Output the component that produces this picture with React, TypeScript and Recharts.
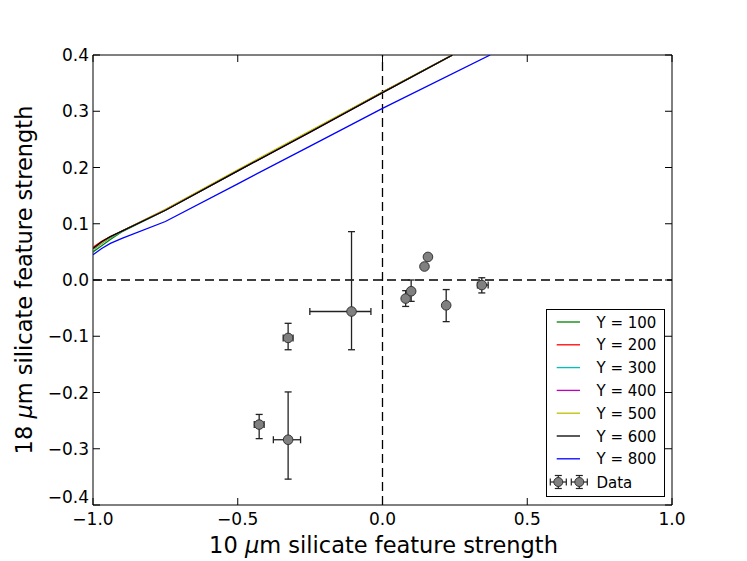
import React from 'react';
import { ScatterChart, Scatter, XAxis, YAxis, ErrorBar, ReferenceLine, Legend } from 'recharts';

// axis ticks
const xTicks = [-1, -0.5, 0, 0.5, 1];
const yTicks = [-0.4, -0.3, -0.2, -0.1, 0, 0.1, 0.2, 0.3, 0.4];

// model curves
const modelX = [-1, -0.97, -0.94, -0.9, -0.75, -0.5, -0.25, 0, 0.242];
const y100 = [0.05, 0.061, 0.072, 0.086, 0.124, 0.194, 0.264, 0.334, 0.4];
const y200 = [0.058, 0.069, 0.077, 0.087, 0.125, 0.195, 0.264, 0.334, 0.4];
const y300 = [0.054, 0.065, 0.075, 0.086, 0.124, 0.194, 0.264, 0.333, 0.4];
const y400 = [0.055, 0.066, 0.076, 0.087, 0.124, 0.194, 0.263, 0.333, 0.4];
const y500 = [0.055, 0.066, 0.076, 0.087, 0.125, 0.196, 0.265, 0.334, 0.4];
const y600 = [0.056, 0.068, 0.077, 0.087, 0.124, 0.194, 0.263, 0.333, 0.4];
const blueX = [-1, -0.97, -0.94, -0.9, -0.75, -0.5, -0.25, 0, 0.372];
const y800 = [0.045, 0.056, 0.065, 0.074, 0.104, 0.171, 0.238, 0.305, 0.4];

// observed points, errors as [below, above]
const obsX = [-0.107, -0.326, -0.426, -0.326, 0.08, 0.099, 0.145, 0.157, 0.22, 0.343];
const obsY = [-0.056, -0.103, -0.257, -0.284, -0.033, -0.02, 0.024, 0.041, -0.045, -0.009];
const obsXErr = [[0.144, 0.067], [0.017, 0.017], [0.017, 0.017], [0.051, 0.043], [0.008, 0.008], [0.006, 0.006], [0, 0], [0, 0], [0.006, 0.006], [0.015, 0.022]];
const obsYErr = [[0.068, 0.142], [0.021, 0.026], [0.025, 0.018], [0.07, 0.085], [0.014, 0.014], [0.018, 0.02], [0, 0], [0, 0], [0.029, 0.028], [0.014, 0.013]];

const series = [
  { name: 'Y = 100', color: '#008000', xs: modelX, ys: y100 },
  { name: 'Y = 200', color: '#ff0000', xs: modelX, ys: y200 },
  { name: 'Y = 300', color: '#00bfbf', xs: modelX, ys: y300 },
  { name: 'Y = 400', color: '#bf00bf', xs: modelX, ys: y400 },
  { name: 'Y = 500', color: '#bfbf00', xs: modelX, ys: y500 },
  { name: 'Y = 600', color: '#000000', xs: modelX, ys: y600 },
  { name: 'Y = 800', color: '#0000ff', xs: blueX, ys: y800 },
];

const obs = obsX.map((x, i) => ({ x, y: obsY[i], ex: obsXErr[i], ey: obsYErr[i] }));

const W = 747;
const H = 561;
const MARGIN = { top: 55, right: 75, bottom: 16, left: 33 };
const PLOT_TOP = MARGIN.top;
const PLOT_RIGHT = W - MARGIN.right;
const TICK = 7;

const FONT = '"DejaVu Sans", sans-serif';
const legendOrder = [...series.map((s) => s.name), 'Data'];

const fmt = (v: number) => (v < 0 ? '\u2212' : '') + Math.abs(v).toFixed(1);

// x tick label plus inward tick marks on bottom and top edges
const XTick = (props: any) => (
  <g>
    <line x1={props.x} y1={props.y} x2={props.x} y2={props.y - TICK} stroke="#000" />
    <line x1={props.x} y1={PLOT_TOP} x2={props.x} y2={PLOT_TOP + TICK} stroke="#000" />
    <text x={props.x} y={props.y + 20} textAnchor="middle" fontSize={17} fill="#000" fontFamily={FONT}>
      {fmt(props.payload.value)}
    </text>
  </g>
);

// y tick label plus inward tick marks on left and right edges
const YTick = (props: any) => {
  const v = props.payload.value;
  const dy = v <= -0.4 ? -2 : 6;
  return (
    <g>
      <line x1={props.x} y1={props.y} x2={props.x + TICK} y2={props.y} stroke="#000" />
      <line x1={PLOT_RIGHT} y1={props.y} x2={PLOT_RIGHT - TICK} y2={props.y} stroke="#000" />
      <text x={props.x - 4} y={props.y + dy} textAnchor="end" fontSize={17} fill="#000" fontFamily={FONT}>
        {fmt(v)}
      </text>
    </g>
  );
};

const XTitle = (props: any) => {
  const vb = props.viewBox;
  return (
    <text x={vb.x + vb.width / 2 + 1} y={vb.y + 48} textAnchor="middle" fontSize={22.5} fill="#000" fontFamily={FONT}>
      10 <tspan fontStyle="italic">μ</tspan>m silicate feature strength
    </text>
  );
};

const YTitle = (props: any) => {
  const vb = props.viewBox;
  const cx = vb.x - 1;
  const cy = vb.y + vb.height / 2;
  return (
    <text x={cx} y={cy} transform={`rotate(-90 ${cx} ${cy})`} textAnchor="middle" fontSize={22.5} fill="#000" fontFamily={FONT}>
      18 <tspan fontStyle="italic">μ</tspan>m silicate feature strength
    </text>
  );
};

const Marker = (props: any) => (
  <circle cx={props.cx} cy={props.cy} r={4.8} fill="#808080" stroke="#333" strokeWidth={1} />
);

const NoShape = () => <g />;

const DataIcon = ({ cx, cy }: { cx: number; cy: number }) => (
  <g stroke="#222" strokeWidth={1.2}>
    <line x1={cx - 8} y1={cy} x2={cx + 8} y2={cy} />
    <line x1={cx - 8} y1={cy - 3.5} x2={cx - 8} y2={cy + 3.5} />
    <line x1={cx + 8} y1={cy - 3.5} x2={cx + 8} y2={cy + 3.5} />
    <line x1={cx} y1={cy - 6.5} x2={cx} y2={cy + 6.5} />
    <line x1={cx - 3.5} y1={cy - 6.5} x2={cx + 3.5} y2={cy - 6.5} />
    <line x1={cx - 3.5} y1={cy + 6.5} x2={cx + 3.5} y2={cy + 6.5} />
    <circle cx={cx} cy={cy} r={4.5} fill="#808080" stroke="#333" strokeWidth={1} />
  </g>
);

const renderLegend = (props: any) => {
  const items = [...(props.payload || [])].sort(
    (a: any, b: any) => legendOrder.indexOf(a.value) - legendOrder.indexOf(b.value)
  );
  return (
    <svg width={119} height={188} style={{ display: 'block' }}>
      <rect x={0.5} y={0.5} width={118} height={187} fill="#fff" stroke="#000" strokeWidth={1} />
      {items.map((it: any, i: number) => {
        const cy = i < 7 ? 13 + i * 22.8 : 173;
        return (
          <g key={it.value}>
            {it.value === 'Data' ? (
              <>
                <DataIcon cx={12.3} cy={cy} />
                <DataIcon cx={33.3} cy={cy} />
              </>
            ) : (
              <line x1={10.7} y1={cy} x2={34} y2={cy} stroke={it.color} strokeWidth={1.3} />
            )}
            <text x={50.5} y={cy + 5.5} fontSize={15} fill="#000" fontFamily={FONT}>
              {it.value}
            </text>
          </g>
        );
      })}
    </svg>
  );
};

export default function App() {
  return (
    <div style={{ position: 'absolute', left: 0, top: 0, width: W, height: H, background: '#fff', fontFamily: FONT }}>
      <ScatterChart width={W} height={H} margin={MARGIN}>
        <XAxis
          type="number"
          dataKey="x"
          domain={[-1, 1]}
          ticks={xTicks}
          allowDataOverflow
          height={40}
          tickLine={false}
          tickSize={0}
          tickMargin={0}
          tick={XTick}
          axisLine={{ stroke: '#000' }}
          label={XTitle}
        />
        <YAxis
          type="number"
          dataKey="y"
          domain={[-0.4, 0.4]}
          ticks={yTicks}
          allowDataOverflow
          width={60}
          tickLine={false}
          tickSize={0}
          tickMargin={0}
          tick={YTick}
          axisLine={{ stroke: '#000' }}
          label={YTitle}
        />
        {/* top and right frame edges */}
        <XAxis xAxisId="top" orientation="top" mirror type="number" domain={[-1, 1]} ticks={xTicks} tick={false} tickLine={false} axisLine={{ stroke: '#000' }} />
        <YAxis yAxisId="right" orientation="right" mirror type="number" domain={[-0.4, 0.4]} ticks={yTicks} tick={false} tickLine={false} axisLine={{ stroke: '#000' }} />

        <ReferenceLine x={0} stroke="#000" strokeWidth={1.3} strokeDasharray="9 5" />
        <ReferenceLine y={0} stroke="#000" strokeWidth={1.3} strokeDasharray="9 5" />

        {series.map((s) => (
          <Scatter
            key={s.name}
            name={s.name}
            data={s.xs.map((x, i) => ({ x, y: s.ys[i] }))}
            fill={s.color}
            line={{ stroke: s.color, strokeWidth: 1.3 }}
            lineJointType="linear"
            shape={NoShape}
            legendType="line"
            isAnimationActive={false}
          />
        ))}

        <Scatter name="Data" data={obs} fill="#808080" shape={Marker} isAnimationActive={false}>
          <ErrorBar dataKey="ex" direction="x" width={3.5} stroke="#222" strokeWidth={1.3} isAnimationActive={false} />
          <ErrorBar dataKey="ey" direction="y" width={3.5} stroke="#222" strokeWidth={1.3} isAnimationActive={false} />
        </Scatter>

        <Legend
          layout="vertical"
          align="center"
          verticalAlign="middle"
          content={renderLegend}
          wrapperStyle={{ left: 546, top: 309, width: 119, height: 188 }}
        />
      </ScatterChart>
    </div>
  );
}
